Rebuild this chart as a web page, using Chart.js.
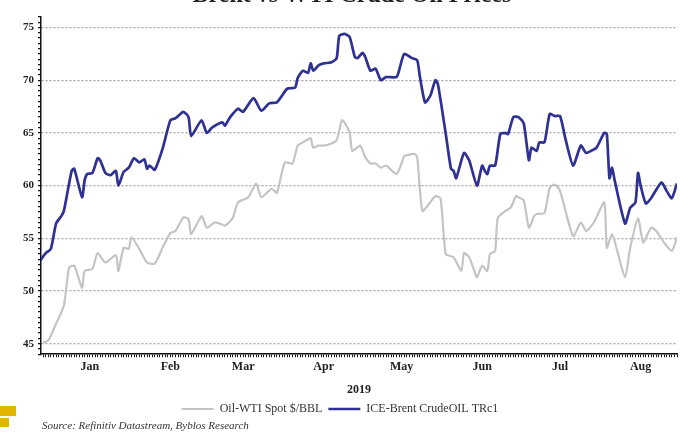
<!DOCTYPE html>
<html>
<head>
<meta charset="utf-8">
<script src="https://cdn.jsdelivr.net/npm/chart.js@4"></script>
<style>
  html,body{margin:0;padding:0;background:#fff;}
  #wrap{width:680px;height:432px;position:relative;}
</style>
</head>
<body>
<div id="wrap"><canvas id="chart"></canvas></div>
<script>
// ===== DATA (day 0 = 1 Jan 2019) =====
const monthLabels = ["Jan","Feb","Mar","Apr","May","Jun","Jul","Aug"];
const monthMidDays = [14,45,73,104,134,165,195,226];
const yLabels = [45,50,55,60,65,70,75];

const brentDays = [-5,-3,-1,1,3,4,7,8,11,12,13,15,17,18,20,22,24,25,27,29,31,33,35,36,37,39,42,45,47,50,52,53,57,59,61,65,66,68,71,73,77,80,83,86,90,93,94,96,98,99,100,102,104,107,109,110,112,114,116,117,119,120,122,124,126,128,132,133,135,138,140,141,143,145,147,148,151,153,154,155,158,160,163,165,166,167,168,170,172,174,175,177,179,181,183,184,186,187,189,191,193,195,197,200,203,205,207,209,212,213,214,215,216,220,222,224,225,226,228,230,234,236,238,240];
const brentPrices = [52.9,53.6,54.0,56.4,57.1,57.6,61.4,61.6,58.9,60.5,61.1,61.2,62.6,62.4,61.2,61.0,61.4,60.0,61.3,61.7,62.6,62.2,62.5,61.6,61.9,61.5,63.5,66.2,66.4,67.0,66.5,64.7,66.2,65.0,65.5,66.0,65.7,66.5,67.3,67.0,68.3,67.1,67.8,67.9,69.2,69.3,70.2,70.9,70.7,71.6,70.9,71.4,71.6,71.7,72.1,74.2,74.4,74.1,72.2,72.1,72.6,72.2,70.9,71.1,70.0,70.3,70.3,70.9,72.5,72.1,71.9,70.4,67.9,68.5,70.0,69.6,64.9,61.6,61.4,60.7,63.1,62.4,60.0,61.9,61.4,61.1,61.9,61.9,64.9,65.0,64.9,66.5,66.5,65.9,62.4,63.6,63.3,64.1,64.1,66.8,66.6,66.6,64.5,61.9,63.8,63.1,63.3,63.6,65.0,64.9,60.7,61.7,60.5,56.4,57.9,58.4,61.2,60.0,58.3,58.8,60.3,59.5,58.8,60.2];

const wtiDays = [-4,-2,1,4,6,8,11,12,15,17,20,24,25,27,29,30,33,36,39,42,45,47,50,52,53,57,59,62,64,66,69,71,75,78,80,84,86,89,92,94,96,98,99,100,102,104,107,109,111,112,114,115,118,120,122,124,126,128,132,134,135,139,140,142,145,147,149,151,154,157,158,160,162,163,165,167,168,170,171,174,176,178,179,181,183,185,186,189,191,193,195,200,203,205,208,212,213,215,217,220,222,225,227,230,232,235,238,240];
const wtiPrices = [45.1,45.3,46.9,48.6,52.2,52.4,50.3,51.9,52.1,53.6,52.7,53.4,51.9,54.1,54.0,55.1,54.0,52.7,52.6,54.1,55.5,55.7,57.0,56.8,55.4,57.1,56.0,56.5,56.4,56.2,56.9,58.4,58.9,60.2,58.9,59.7,59.3,62.2,62.1,63.8,64.1,64.4,64.5,63.6,63.8,63.8,64.0,64.3,66.2,66.0,65.0,63.3,63.8,62.7,62.1,62.1,61.7,61.9,61.1,62.1,62.8,63.0,62.7,57.6,58.4,59.0,58.8,53.5,53.2,51.9,53.6,53.2,51.9,51.3,52.4,51.9,53.5,53.8,56.9,57.6,57.9,59.0,58.9,58.6,56.0,57.1,57.3,57.4,59.8,60.1,59.5,55.2,56.5,55.7,56.5,58.4,54.1,55.4,53.8,51.3,54.1,56.9,54.6,56.0,55.7,54.6,53.8,55.1];

const SERIF = "'Liberation Serif', 'DejaVu Serif', serif";

// ===== EXTRA TEXT / MARKS =====
const extras = {
  id: "extras",
  afterDraw(chart){
    const c = chart.ctx;
    c.save();
    // title, cut off by the top edge
    c.fillStyle = "#222";
    c.font = "bold 24px " + SERIF;
    c.textAlign = "center";
    c.textBaseline = "alphabetic";
    c.fillText("Brent vs WTI Crude Oil Prices", 352, 2);
    // source
    c.font = "italic 11px " + SERIF;
    c.textAlign = "left";
    c.fillStyle = "#333";
    c.fillText("Source: Refinitiv Datastream, Byblos Research", 42, 429);
    // yellow marks bottom left
    c.fillStyle = "#E2B400";
    c.fillRect(0, 406, 16, 10);
    c.fillRect(0, 418, 9, 9);
    c.restore();
  }
};

const points = (days, vals) => days.map((d,i) => ({x:d, y:vals[i]}));

new Chart(document.getElementById("chart"), {
  type: "line",
  data: {
    datasets: [
      {
        label: "Oil-WTI Spot $/BBL",
        data: points(wtiDays, wtiPrices),
        borderColor: "#c4c4c4",
        backgroundColor: "#c4c4c4",
        borderWidth: 2.2,
        pointRadius: 0,
        tension: 0.2
      },
      {
        label: "ICE-Brent CrudeOIL TRc1",
        data: points(brentDays, brentPrices),
        borderColor: "#2e3192",
        backgroundColor: "#2e3192",
        borderWidth: 2.7,
        pointRadius: 0,
        tension: 0.2
      }
    ]
  },
  options: {
    responsive: true,
    maintainAspectRatio: false,
    animation: false,
    layout: { padding: { top: 17, right: 0, left: 0, bottom: 7 } },
    plugins: {
      tooltip: { enabled: false },
      legend: {
        position: "bottom",
        labels: {
          usePointStyle: true,
          pointStyle: "line",
          pointStyleWidth: 32,
          boxWidth: 32,
          boxHeight: 2,
          padding: 6,
          color: "#333",
          font: { family: SERIF, size: 12 }
        }
      }
    },
    scales: {
      x: {
        type: "linear",
        min: -4.8,
        max: 240,
        afterBuildTicks: s => {
          s.ticks = [];
          for (let d = -4; d <= 240; d++) s.ticks.push({value: d});
        },
        ticks: {
          autoSkip: false,
          maxRotation: 0,
          padding: 3,
          color: "#222",
          font: { family: SERIF, size: 12, weight: "bold" },
          callback: v => {
            const i = monthMidDays.indexOf(v);
            return i >= 0 ? monthLabels[i] : "";
          }
        },
        grid: { drawOnChartArea: false, tickColor: "#111", tickLength: 3 },
        border: { color: "#111", width: 1.5 },
        title: {
          display: true,
          text: "2019",
          color: "#222",
          font: { family: SERIF, size: 12, weight: "bold" },
          padding: { top: 5, bottom: 0 }
        }
      },
      y: {
        min: 44,
        max: 76,
        afterBuildTicks: s => {
          s.ticks = [];
          for (let v = 44; v <= 76; v += 0.5) s.ticks.push({value: v});
        },
        afterFit: s => { s.width = 41; },
        ticks: {
          autoSkip: false,
          padding: 4,
          color: "#222",
          font: { family: SERIF, size: 11, weight: "bold" },
          callback: v => yLabels.includes(v) ? String(v) : ""
        },
        grid: {
          color: c => (c.tick && yLabels.includes(c.tick.value)) ? "#a8a8a8" : "transparent",
          lineWidth: 1.3,
          tickColor: "#111",
          tickLength: 3
        },
        border: { color: "#111", width: 1.5, dash: [2, 2] }
      }
    }
  },
  plugins: [extras]
});
</script>
</body>
</html>
